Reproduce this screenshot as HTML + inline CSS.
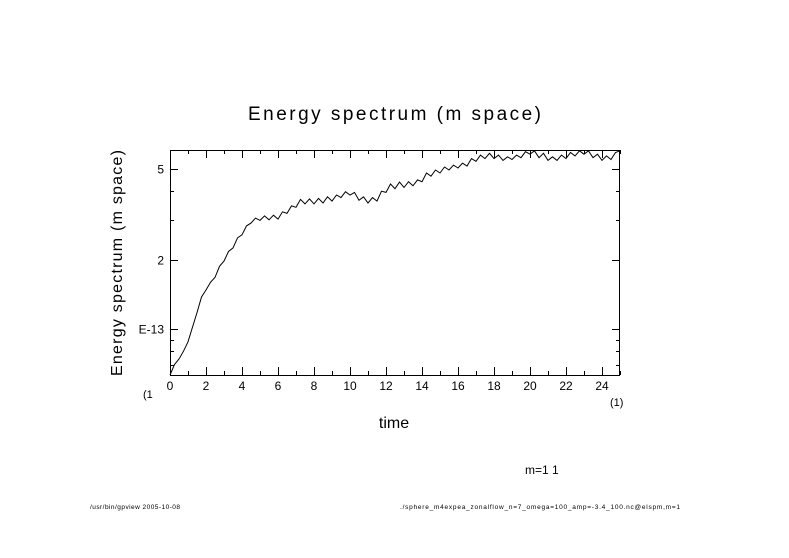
<!DOCTYPE html>
<html><head><meta charset="utf-8"><style>
body{margin:0;background:#fff;}
svg{display:block;font-family:"Liberation Sans",sans-serif;}
</style></head><body>
<svg width="789" height="558" viewBox="0 0 789 558" id="svg">
<rect width="789" height="558" fill="#fff"/>
<text x="248" y="120" font-size="19" textLength="293" lengthAdjust="spacing">Energy spectrum (m space)</text>
<text transform="translate(122,376) rotate(-90)" font-size="16" textLength="226" lengthAdjust="spacing">Energy spectrum (m space)</text>
<text x="394" y="428" font-size="16" text-anchor="middle">time</text>
<text x="143" y="398" font-size="11">(1</text>
<text x="610" y="406" font-size="11">(1)</text>
<text x="525" y="474" font-size="12">m=1 1</text>
<text x="90" y="509" font-size="6.5" textLength="90" lengthAdjust="spacing">/usr/bin/gpview  2005-10-08</text>
<text x="400" y="509" font-size="6.5" textLength="280" lengthAdjust="spacing">./sphere_m4expea_zonalflow_n=7_omega=100_amp=-3.4_100.nc@elspm,m=1</text>
<g id="axes"></g>
<polyline id="curve" fill="none" stroke="#000" stroke-width="1"/>
</svg>
<script>
const times=[];for(let i=0;i<=100;i++)times.push(i*0.25);
const energy=[0.63,0.70,0.74,0.80,0.88,1.02,1.18,1.38,1.48,1.60,1.68,1.88,1.98,2.18,2.26,2.50,2.58,2.82,2.90,3.05,2.98,3.12,3.00,3.14,3.02,3.25,3.20,3.45,3.40,3.68,3.52,3.70,3.52,3.72,3.55,3.78,3.62,3.85,3.75,3.98,3.85,3.95,3.65,3.78,3.55,3.75,3.62,4.0,3.95,4.30,4.10,4.38,4.15,4.40,4.22,4.48,4.40,4.80,4.65,4.95,4.80,5.10,4.95,5.20,5.05,5.30,5.15,5.55,5.40,5.75,5.55,5.85,5.55,5.75,5.45,5.65,5.50,5.75,5.60,5.95,5.80,6.0,5.60,5.85,5.45,5.65,5.45,5.75,5.55,5.90,5.70,6.0,5.80,6.0,5.60,5.80,5.45,5.70,5.50,5.90,6.0];
const xTicks=[0,2,4,6,8,10,12,14,16,18,20,22,24];
const xMinor=[1,3,5,7,9,11,13,15,17,19,21,23,25];
const yMajor=[1,2,5];
const yMajorLabels=["E-13","2","5"];
const yMinor=[0.7,0.8,0.9,3,4];
const L=170,R=620,T=150,B=375,X0=0,X1=25,LY0=Math.log10(0.63),LY1=Math.log10(6.05);
const sx=v=>L+(v-X0)/(X1-X0)*(R-L);
const sy=v=>B-(Math.log10(v)-LY0)/(LY1-LY0)*(B-T);
const NS="http://www.w3.org/2000/svg",g=document.getElementById('axes');
function ln(x1,y1,x2,y2,n){const e=document.createElementNS(NS,'line');e.setAttribute('x1',x1);e.setAttribute('y1',y1);e.setAttribute('x2',x2);e.setAttribute('y2',y2);e.setAttribute('stroke','#000');


g.appendChild(e);}
function tx(x,y,s,a,n){const e=document.createElementNS(NS,'text');e.setAttribute('x',x);e.setAttribute('y',y);e.setAttribute('font-size','12');e.setAttribute('text-anchor',a);e.textContent=s;


g.appendChild(e);}
const fr=document.createElementNS(NS,'rect');fr.setAttribute('x',L+0.5);fr.setAttribute('y',T+0.5);fr.setAttribute('width',R-L-1);fr.setAttribute('height',B-T);fr.setAttribute('fill','none');fr.setAttribute('stroke','#000');


g.appendChild(fr);
xTicks.forEach(v=>{const x=Math.round(sx(v))+0.5;ln(x,B,x,B-8,'x-tick');ln(x,T,x,T+8,'x-tick');tx(sx(v),B+15,String(v),'middle','x-tick-label');});
xMinor.forEach(v=>{const x=Math.round(sx(v))+0.5;ln(x,B,x,B-4,'x-minor-tick');ln(x,T,x,T+4,'x-minor-tick');});
yMajor.forEach((v,i)=>{const y=Math.round(sy(v))+0.5;ln(L,y,L+8,y,'y-tick');ln(R,y,R-8,y,'y-tick');tx(L-6,y+4,yMajorLabels[i],'end','y-tick-label');});
yMinor.forEach(v=>{const y=Math.round(sy(v))+0.5;ln(L,y,L+4,y,'y-minor-tick');ln(R,y,R-4,y,'y-minor-tick');});
document.getElementById('curve').setAttribute('points',times.map((t,i)=>sx(t).toFixed(1)+','+sy(energy[i]).toFixed(1)).join(' '));
</script>
</body></html>
